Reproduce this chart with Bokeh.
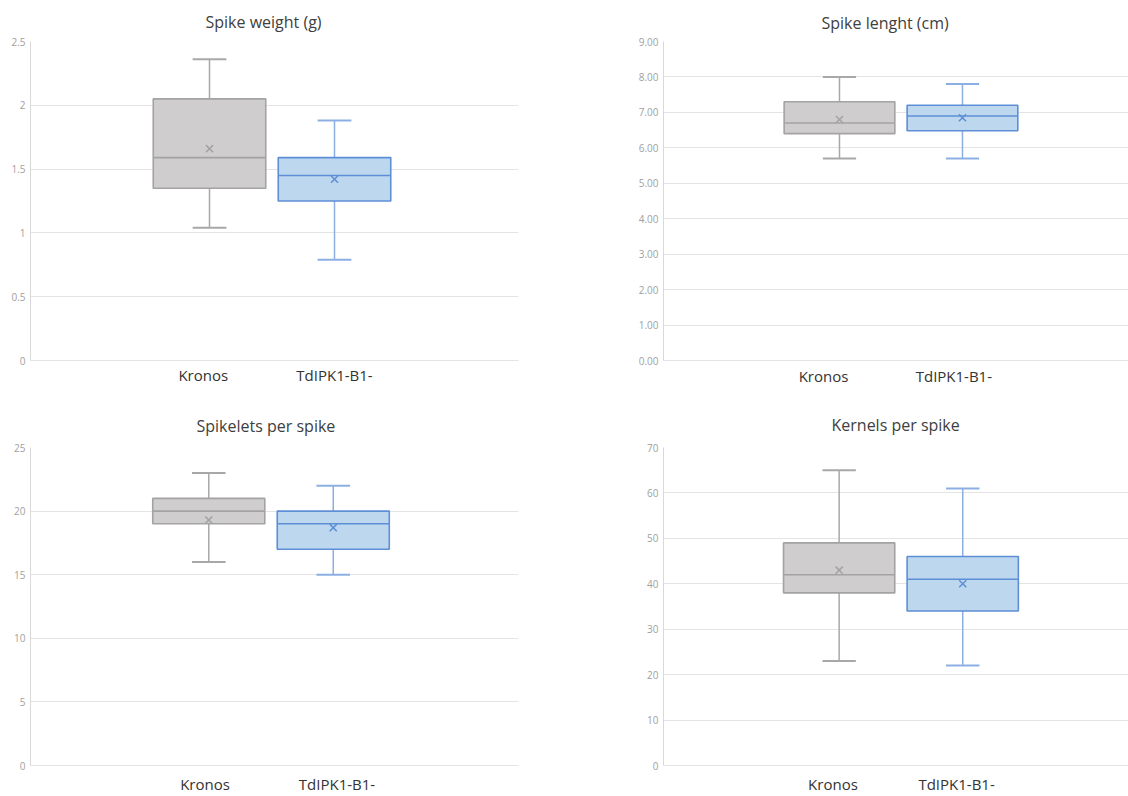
from bokeh.plotting import figure
from bokeh.layouts import gridplot
from bokeh.models import FixedTicker, Range1d
from bokeh.embed import file_html
from bokeh.resources import INLINE

# ---------------- data ----------------
groups = ["Kronos", "TdIPK1-B1-"]
group_x = [1, 2]

# Spike weight (g)
sw_min = [1.04, 0.79]
sw_q1 = [1.35, 1.25]
sw_med = [1.59, 1.45]
sw_q3 = [2.05, 1.59]
sw_max = [2.36, 1.88]
sw_mean = [1.66, 1.42]
sw_ticks = [0, 0.5, 1, 1.5, 2, 2.5]
sw_labels = ["0", "0.5", "1", "1.5", "2", "2.5"]

# Spike lenght (cm)
sl_min = [5.70, 5.70]
sl_q1 = [6.40, 6.48]
sl_med = [6.70, 6.90]
sl_q3 = [7.30, 7.20]
sl_max = [8.00, 7.80]
sl_mean = [6.80, 6.85]
sl_ticks = [0, 1, 2, 3, 4, 5, 6, 7, 8, 9]
sl_labels = ["0.00", "1.00", "2.00", "3.00", "4.00", "5.00", "6.00", "7.00", "8.00", "9.00"]

# Spikelets per spike
sp_min = [16, 15]
sp_q1 = [19, 17]
sp_med = [20, 19]
sp_q3 = [21, 20]
sp_max = [23, 22]
sp_mean = [19.3, 18.7]
sp_ticks = [0, 5, 10, 15, 20, 25]
sp_labels = ["0", "5", "10", "15", "20", "25"]

# Kernels per spike
kp_min = [23, 22]
kp_q1 = [38, 34]
kp_med = [42, 41]
kp_q3 = [49, 46]
kp_max = [65, 61]
kp_mean = [43, 40]
kp_ticks = [0, 10, 20, 30, 40, 50, 60, 70]
kp_labels = ["0", "10", "20", "30", "40", "50", "60", "70"]

fill_colors = ["#cfcdce", "#bdd7ee"]
line_colors = ["#a3a3a3", "#5e8fd6"]
whisk_colors = ["#a8a8a8", "#8cafe3"]

FONT = "Open Sans"
BOX_W = 0.9
CAP_W = 0.27


def make_panel(title, mins, q1s, meds, q3s, maxs, means, ticks, labels,
               x_start, x_end, borders, title_offset, title_standoff, xlab_standoff,
               label_shift):
    left, right, top, bottom = borders
    p = figure(width=564, height=398, output_backend="svg", toolbar_location=None,
               x_range=Range1d(x_start, x_end),
               y_range=Range1d(ticks[0], ticks[-1]),
               min_border_left=left, min_border_right=right,
               min_border_top=top, min_border_bottom=bottom)
    p.title.text = title
    p.title.align = "left"
    p.title.text_font = FONT
    p.title.text_font_size = "16px"
    p.title.text_font_style = "normal"
    p.title.text_color = "#404040"
    p.title.offset = title_offset
    p.title.standoff = title_standoff
    p.outline_line_color = None
    p.background_fill_color = "white"
    p.border_fill_color = "white"

    p.xgrid.grid_line_color = None
    p.ygrid.grid_line_color = "#e4e4e4"
    p.ygrid.grid_line_width = 1
    p.yaxis.ticker = FixedTicker(ticks=ticks)
    p.yaxis.major_label_overrides = {t: l for t, l in zip(ticks, labels)}
    p.yaxis.axis_line_color = "#d9d9d9"
    p.yaxis.major_tick_line_color = None
    p.yaxis.major_tick_out = 0
    p.yaxis.major_tick_in = 0
    p.yaxis.minor_tick_line_color = None
    p.yaxis.major_label_text_font = FONT
    p.yaxis.major_label_text_font_size = "10px"
    p.yaxis.major_label_text_color = "#a0a0a0"
    p.yaxis.major_label_standoff = 5

    label_pos = [x + s for x, s in zip(group_x, label_shift)]
    p.xaxis.ticker = FixedTicker(ticks=label_pos)
    p.xaxis.major_label_overrides = {x: g for x, g in zip(label_pos, groups)}
    p.xaxis.axis_line_color = "#e4e4e4"
    p.xaxis.major_tick_line_color = None
    p.xaxis.major_tick_out = 0
    p.xaxis.major_tick_in = 0
    p.xaxis.minor_tick_line_color = None
    p.xaxis.major_label_text_font = FONT
    p.xaxis.major_label_text_font_size = "15px"
    p.xaxis.major_label_text_color = "#333333"
    p.xaxis.major_label_standoff = xlab_standoff

    for i, x in enumerate(group_x):
        lc = line_colors[i]
        wc = whisk_colors[i]
        # whiskers
        p.segment(x0=[x, x], y0=[q3s[i], q1s[i]], x1=[x, x], y1=[maxs[i], mins[i]],
                  line_color=wc, line_width=1.5)
        p.segment(x0=[x - CAP_W / 2, x - CAP_W / 2], y0=[maxs[i], mins[i]],
                  x1=[x + CAP_W / 2, x + CAP_W / 2], y1=[maxs[i], mins[i]],
                  line_color=wc, line_width=2)
        # box
        p.vbar(x=[x], width=BOX_W, top=[q3s[i]], bottom=[q1s[i]],
               fill_color=fill_colors[i], line_color=lc, line_width=1.6)
        # median
        p.segment(x0=[x - BOX_W / 2], y0=[meds[i]], x1=[x + BOX_W / 2], y1=[meds[i]],
                  line_color=lc, line_width=1.6)
        # mean
        p.scatter(x=[x], y=[means[i]], marker="x", size=10, line_color=lc, line_width=1.5)
    return p


p1 = make_panel("Spike weight (g)", sw_min, sw_q1, sw_med, sw_q3, sw_max, sw_mean,
                sw_ticks, sw_labels, -0.432, 3.472, (30, 46, 41, 37), 175, 17, 4,
                [-0.05, 0.0])
p2 = make_panel("Spike lenght (cm)", sl_min, sl_q1, sl_med, sl_q3, sl_max, sl_mean,
                sl_ticks, sl_labels, -0.431, 3.350, (99, 0, 40, 38), 158, 16, 5,
                [-0.13, -0.07])
p3 = make_panel("Spikelets per spike", sp_min, sp_q1, sp_med, sp_q3, sp_max, sp_mean,
                sp_ticks, sp_labels, -0.432, 3.488, (28, 46, 48, 30), 166, 22, 8,
                [-0.03, 0.03])
p4 = make_panel("Kernels per spike", kp_min, kp_q1, kp_med, kp_q3, kp_max, kp_mean,
                kp_ticks, kp_labels, -0.421, 3.341, (90, 0, 49, 30), 168, 24, 8,
                [-0.05, -0.05])

grid = gridplot([[p1, p2], [p3, p4]], toolbar_location=None)

open("out.html", "w").write(file_html(grid, INLINE))
